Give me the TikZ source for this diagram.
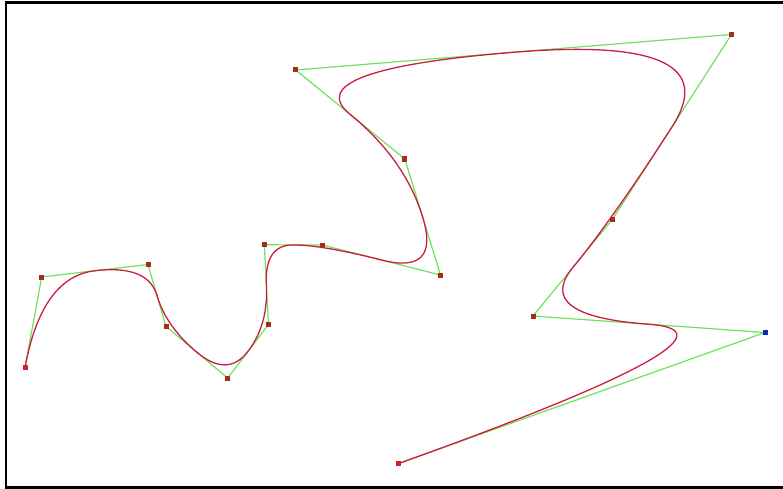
\documentclass[tikz,border=0pt]{standalone}
\usetikzlibrary{calc,backgrounds}
\definecolor{polygreen}{RGB}{110,225,95}
\definecolor{curvered}{RGB}{205,30,65}
\definecolor{ptbrown}{RGB}{165,45,25}
\definecolor{ptred}{RGB}{225,25,40}
\definecolor{ptblue}{RGB}{20,40,190}
\tikzset{
  ctrl/.style={rectangle,fill=ptbrown,minimum size=5pt,inner sep=0pt},
  endpt/.style={ctrl,fill=ptred},
  selpt/.style={ctrl,fill=ptblue},
  polygon/.style={polygreen,line width=1.2pt},
  spline/.style={curvered,line width=1.3pt},
}

\begin{document}
\begin{tikzpicture}[x=1pt,y=-1pt]
  \useasboundingbox (0,0) rectangle (783,489);
  \draw[line width=2.6pt] (783,2.5) -- (6,2.5) -- (6,487.2) -- (783,487.2);
  % control points of the spline
  \node[endpt] (P0) at (25,367.5) {};
  \node[ctrl] (P1) at (41.7,277) {};
  \node[ctrl] (P2) at (148,264.5) {};
  \node[ctrl] (P3) at (166,326.5) {};
  \node[ctrl] (P4) at (227.7,378) {};
  \node[ctrl] (P5) at (268.5,324.5) {};
  \node[ctrl] (P6) at (264.3,244.8) {};
  \node[ctrl] (P7) at (322.3,245) {};
  \node[ctrl] (P8) at (440.5,275) {};
  \node[ctrl] (P9) at (404.8,159) {};
  \node[ctrl] (P10) at (295.7,70) {};
  \node[ctrl] (P11) at (731.5,34.5) {};
  \node[ctrl] (P12) at (612.7,219) {};
  \node[ctrl] (P13) at (533,316) {};
  \node[selpt] (P14) at (765,332.5) {};
  \node[endpt] (P15) at (398,463.7) {};
  % clamped quadratic B-spline: pieces join at the leg midpoints M1..M13,
  % each piece raised to a cubic for TikZ
  \foreach \i [count=\j from 2] in {1,...,13}
    \coordinate (M\i) at ($(P\i.center)!.5!(P\j.center)$);
  \foreach \i [count=\j from 2] in {1,...,12} {
    \coordinate (C\i) at ($(M\i)!2/3!(P\j.center)$);
    \coordinate (D\i) at ($(M\j)!2/3!(P\j.center)$);
  }
  \begin{scope}[on background layer]
    \draw[polygon] (P0.center) \foreach \i in {1,...,15} { -- (P\i.center) };
    \draw[spline] (P0.center)
      .. controls ($(P0.center)!2/3!(P1.center)$) and ($(M1)!2/3!(P1.center)$) .. (M1)
      \foreach \i [count=\j from 2] in {1,...,12} { .. controls (C\i) and (D\i) .. (M\j) }
      .. controls ($(M13)!2/3!(P14.center)$) and ($(P15.center)!2/3!(P14.center)$) .. (P15.center);
  \end{scope}
\end{tikzpicture}
\end{document}
